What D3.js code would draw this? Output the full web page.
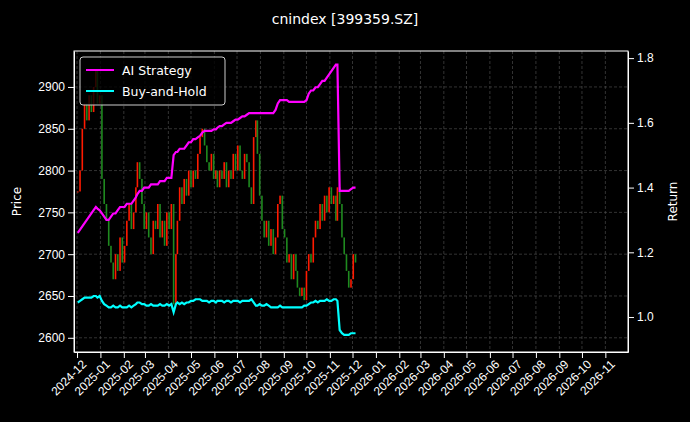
<!DOCTYPE html>
<html>
<head>
<meta charset="utf-8">
<script src="https://cdn.jsdelivr.net/npm/d3@7"></script>
<style>
  body { margin: 0; background: #000; }
  svg { font-family: "DejaVu Sans", sans-serif; }
</style>
</head>
<body>
<svg id="chart" width="690" height="422"></svg>
<script>
// closes, about every 3 calendar days from 2024-12-02 to 2025-12-05
var closes = [2775,2800,2850,2880,2860,2890,2870,2900,2920,2880,2890,
  2790,2760,2740,2710,2690,2670,2700,2680,2720,2690,2710,2740,2760,2730,2750,
  2780,2810,2790,2760,2730,2750,2720,2700,2740,2730,2760,2720,2740,2710,2750,
  2730,2760,2640,2700,2740,2780,2760,2790,2770,2800,2780,2800,2790,2820,2840,
  2850,2830,2810,2800,2820,2790,2800,2780,2800,2790,2810,2780,2800,2790,2820,
  2800,2830,2800,2790,2820,2810,2780,2760,2840,2860,2820,2770,2740,2720,2740,
  2710,2730,2700,2720,2760,2770,2730,2720,2690,2700,2670,2700,2680,2660,2650,
  2660,2645,2680,2700,2690,2720,2740,2730,2760,2740,2770,2750,2780,2760,2770,
  2740,2780,2760,2720,2700,2680,2660,2670,2700,2690];
var aiReturn = [1.26,1.27,1.28,1.29,1.30,1.31,1.32,1.33,1.34,1.335,1.33,1.32,
  1.31,1.30,1.30,1.31,1.32,1.32,1.33,1.34,1.34,1.34,1.35,1.35,
  1.35,1.36,1.37,1.38,1.39,1.39,1.40,1.40,1.40,1.41,1.41,1.41,
  1.41,1.42,1.42,1.42,1.43,1.43,1.43,1.50,1.51,1.51,1.52,1.52,1.52,
  1.53,1.54,1.54,1.55,1.55,1.555,1.56,1.57,1.575,1.575,1.575,1.575,
  1.58,1.58,1.585,1.59,1.59,1.595,1.60,1.60,1.60,1.605,
  1.61,1.61,1.615,1.62,1.62,1.625,
  1.63,1.63,1.63,1.63,1.63,1.63,1.63,1.63,1.63,1.63,1.63,1.63,1.64,
  1.66,1.67,1.67,1.67,1.67,1.665,1.665,1.665,1.665,1.665,1.665,
  1.665,1.665,1.67,1.69,1.70,1.70,1.71,1.71,1.72,
  1.73,1.73,1.74,1.75,1.76,1.77,1.78,1.78,
  1.39,1.39,1.39,1.39,1.39,1.395,1.40,1.40];
var bhReturn = [1.045,1.05,1.055,1.06,1.06,1.06,1.06,1.065,1.065,1.06,1.065,
  1.05,1.04,1.035,1.03,1.03,1.035,1.03,
  1.03,1.035,1.03,1.03,1.03,1.035,1.03,1.035,
  1.04,1.045,1.045,1.04,1.04,1.035,1.035,1.04,1.035,
  1.035,1.035,1.04,1.035,1.035,1.04,1.035,1.04,
  1.015,1.04,1.045,1.04,1.045,1.04,1.045,
  1.045,1.05,1.05,1.055,1.055,1.055,1.05,1.05,1.05,1.045,1.05,
  1.05,1.045,1.05,1.05,1.05,1.045,1.05,1.05,1.045,1.05,1.05,1.05,1.045,1.05,1.05,1.05,
  1.05,1.055,1.045,1.035,1.035,1.04,1.035,1.035,1.04,
  1.035,1.03,1.03,1.03,1.03,1.035,1.03,1.03,1.03,1.03,1.03,1.03,1.03,1.03,1.03,
  1.03,1.035,1.035,1.04,1.045,1.045,1.05,1.045,1.05,1.05,
  1.05,1.055,1.05,1.05,1.055,1.055,1.05,
  0.96,0.95,0.945,0.945,0.945,0.95,0.95,0.95];
var priceTicks = [2600, 2650, 2700, 2750, 2800, 2850, 2900];
var returnTicks = [1.0, 1.2, 1.4, 1.6, 1.8];
var startDate = new Date(2024, 11, 2), endDate = new Date(2025, 11, 5);

var margin = {top: 51, right: 62, bottom: 70, left: 74},
    width = 690 - margin.left - margin.right,
    height = 422 - margin.top - margin.bottom;

var n = closes.length;
var span = d3.timeDay.count(startDate, endDate);
var dates = closes.map((c, i) => d3.timeDay.offset(startDate, Math.round(i * span / (n - 1))));

var svg = d3.select("#chart");
var g = svg.append("g").attr("transform", `translate(${margin.left},${margin.top})`);

var x = d3.scaleTime().domain([new Date(2024, 10, 27), new Date(2026, 11, 1)]).range([0, width]);
var y = d3.scaleLinear().domain([2583, 2943]).range([height, 0]);
var y2 = d3.scaleLinear().domain([0.892, 1.822]).range([height, 0]);
var months = d3.timeMonth.range(new Date(2024, 11, 1), new Date(2026, 10, 2));

// grid
g.append("g").selectAll("line").data(months).join("line")
  .attr("x1", d => x(d)).attr("x2", d => x(d)).attr("y1", 0).attr("y2", height);
g.append("g").selectAll("line").data(priceTicks).join("line")
  .attr("x1", 0).attr("x2", width).attr("y1", d => y(d)).attr("y2", d => y(d));
g.selectAll("g line").attr("stroke", "#555").attr("stroke-dasharray", "3,2").attr("stroke-width", 0.6);

// candles
var bw = 1.6;
g.append("g").selectAll("rect").data(closes).join("rect")
  .attr("x", (c, i) => x(dates[i]) - bw / 2)
  .attr("width", bw)
  .attr("y", (c, i) => y(Math.max(c, i ? closes[i - 1] : c)))
  .attr("height", (c, i) => Math.max(1, Math.abs(y(c) - y(i ? closes[i - 1] : c))))
  .attr("fill", (c, i) => (i && c < closes[i - 1]) ? "#1f8a1f" : "#ff1a00");

// lines
var line = arr => d3.line().x((v, i) => x(dates[i])).y(v => y2(v))(arr.slice(0, n));
g.append("path").attr("d", line(aiReturn)).attr("fill", "none").attr("stroke", "#ff00ff").attr("stroke-width", 2.2);
g.append("path").attr("d", line(bhReturn)).attr("fill", "none").attr("stroke", "#00ffff").attr("stroke-width", 2.2);

// axes
var ax = g.append("g").attr("transform", `translate(0,${height})`)
  .call(d3.axisBottom(x).tickValues(months).tickFormat(d3.timeFormat("%Y-%m")).tickSizeOuter(0));
ax.selectAll("text").attr("transform", "rotate(-45)").attr("text-anchor", "end").attr("dx", "-0.2em").attr("dy", "0.6em");
g.append("g").call(d3.axisLeft(y).tickValues(priceTicks).tickFormat(d3.format("d")).tickSizeOuter(0));
g.append("g").attr("transform", `translate(${width},0)`)
  .call(d3.axisRight(y2).tickValues(returnTicks).tickFormat(d3.format(".1f")).tickSizeOuter(0));
g.append("rect").attr("width", width).attr("height", height).attr("fill", "none").attr("stroke", "#fff");
g.selectAll(".tick line").attr("stroke", "#fff").attr("stroke-dasharray", null).attr("stroke-width", 1);
g.selectAll(".domain").attr("stroke", "#fff");
g.selectAll(".tick text").attr("fill", "#fff").style("font-size", "12px");

// labels
svg.append("text").attr("x", 345).attr("y", 24).attr("text-anchor", "middle").attr("fill", "#fff")
  .style("font-size", "14px").text("cnindex [399359.SZ]");
svg.append("text").attr("transform", `translate(21,${margin.top + height / 2}) rotate(-90)`)
  .attr("text-anchor", "middle").attr("fill", "#fff").style("font-size", "12px").text("Price");
svg.append("text").attr("transform", `translate(677,${margin.top + height / 2}) rotate(-90)`)
  .attr("text-anchor", "middle").attr("fill", "#fff").style("font-size", "12px").text("Return");

// legend
var lg = g.append("g").attr("transform", "translate(6,6)");
lg.append("rect").attr("width", 145).attr("height", 48).attr("rx", 3).attr("fill", "#000").attr("fill-opacity", 0.8).attr("stroke", "#ccc");
[["AI Strategy", "#ff00ff"], ["Buy-and-Hold", "#00ffff"]].forEach((e, i) => {
  lg.append("line").attr("x1", 6).attr("x2", 34).attr("y1", 13 + i * 21).attr("y2", 13 + i * 21).attr("stroke", e[1]).attr("stroke-width", 2);
  lg.append("text").attr("x", 42).attr("y", 17.5 + i * 21).attr("fill", "#fff").style("font-size", "12.5px").text(e[0]);
});
</script>
</body>
</html>
